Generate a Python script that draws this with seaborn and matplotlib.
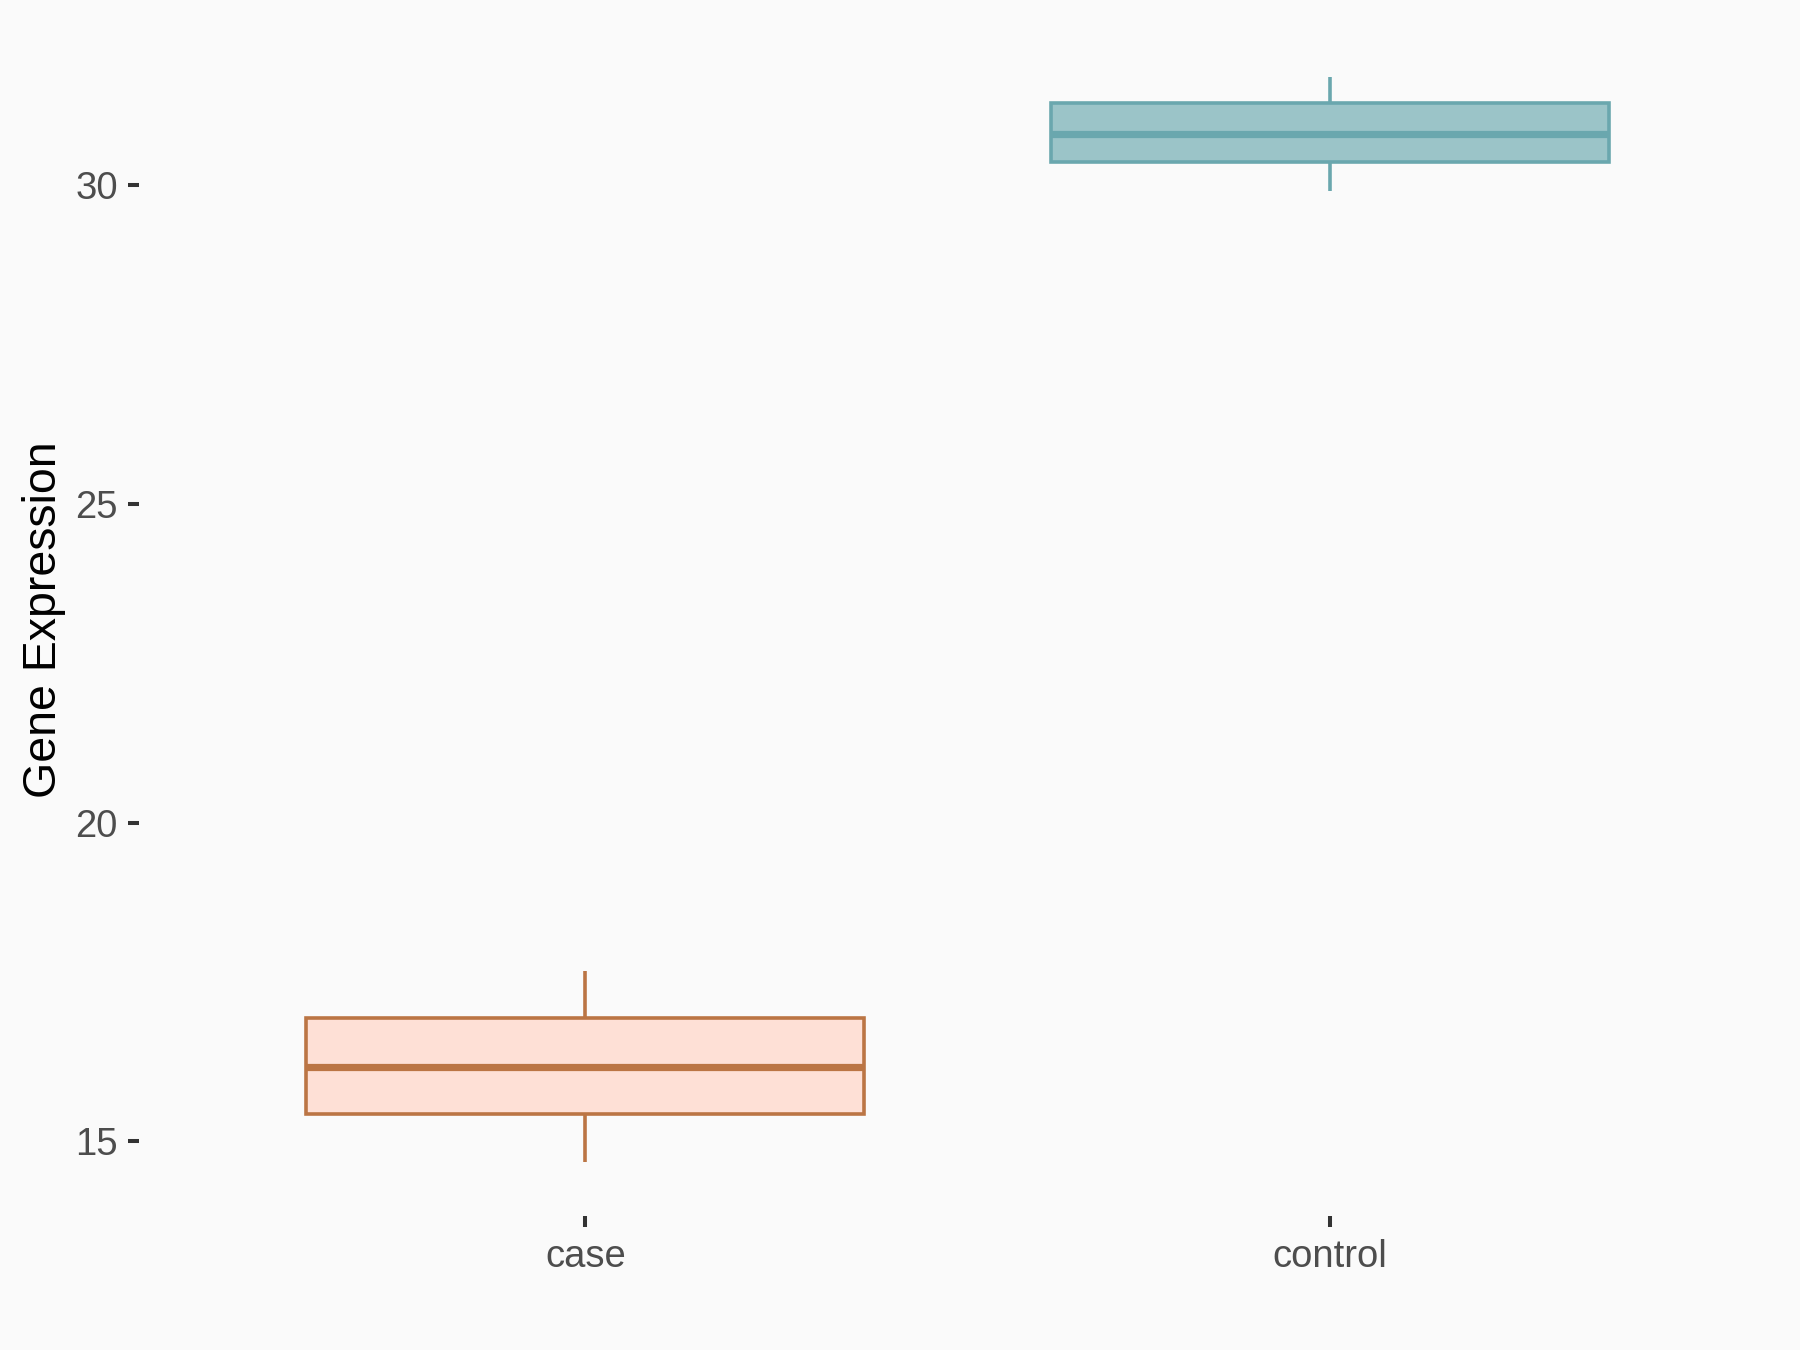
import numpy as np
import pandas as pd
import matplotlib
matplotlib.use("Agg")
import matplotlib.pyplot as plt
import seaborn as sns

# Data (five-number summaries)
groups = ["case", "control"]
case_values = [14.68, 15.43, 16.17, 16.93, 17.67]
control_values = [29.91, 30.36, 30.80, 31.28, 31.69]
y_ticks = [15, 20, 25, 30]
y_label = "Gene Expression"

fill_colors = {"case": "#FEE0D6", "control": "#9BC4C8"}
edge_colors = {"case": "#BB7544", "control": "#6AA7AE"}
bg = "#FAFAFA"

df = pd.DataFrame({
    "group": ["case"] * len(case_values) + ["control"] * len(control_values),
    "value": case_values + control_values,
})

sns.set_theme(style="white")
plt.rcParams["font.family"] = ["Liberation Sans", "DejaVu Sans"]

fig = plt.figure(figsize=(18, 13.5), dpi=100, facecolor=bg)
ax = fig.add_axes([0.0772, 0.0993, 0.9095, 0.8837])
ax.set_facecolor(bg)

sns.boxplot(data=df, x="group", y="value", hue="group", order=groups,
            hue_order=groups, palette=fill_colors, width=0.75, dodge=False,
            saturation=1, showcaps=False, whis=1.5, legend=False,
            linewidth=2.6, ax=ax)

for cont, g in zip(ax.containers, groups):
    ec = edge_colors[g]
    for b in cont.boxes:
        b.set_edgecolor(ec)
        b.set_linewidth(2.6)
    for w in cont.whiskers:
        w.set_color(ec)
        w.set_linewidth(2.6)
    for m in cont.medians:
        m.set_color(ec)
        m.set_linewidth(5.2)
        m.set_solid_capstyle("butt")

vals = np.array(case_values + control_values)
lo, hi = vals.min(), vals.max()
pad = 0.05 * (hi - lo)
ax.set_ylim(lo - pad, hi + pad)
ax.set_xlim(-0.6, 1.6)
ax.set_yticks(y_ticks)
ax.set_yticklabels([str(t) for t in y_ticks])

for s in ax.spines.values():
    s.set_visible(False)
ax.grid(False)

ax.tick_params(axis="both", which="major", length=7.6, width=2.9, color="#333333",
               labelsize=27.5, labelcolor="#4D4D4D", left=True, bottom=True)
ax.tick_params(axis="y", pad=7.5)
ax.tick_params(axis="x", pad=9)

ax.set_xlabel("")
ax.set_ylabel(y_label, fontsize=33.5, color="black", va="baseline")
ax.yaxis.set_label_coords(-0.0507, 0.5)

fig.savefig("out.png", dpi=100, facecolor=bg)
